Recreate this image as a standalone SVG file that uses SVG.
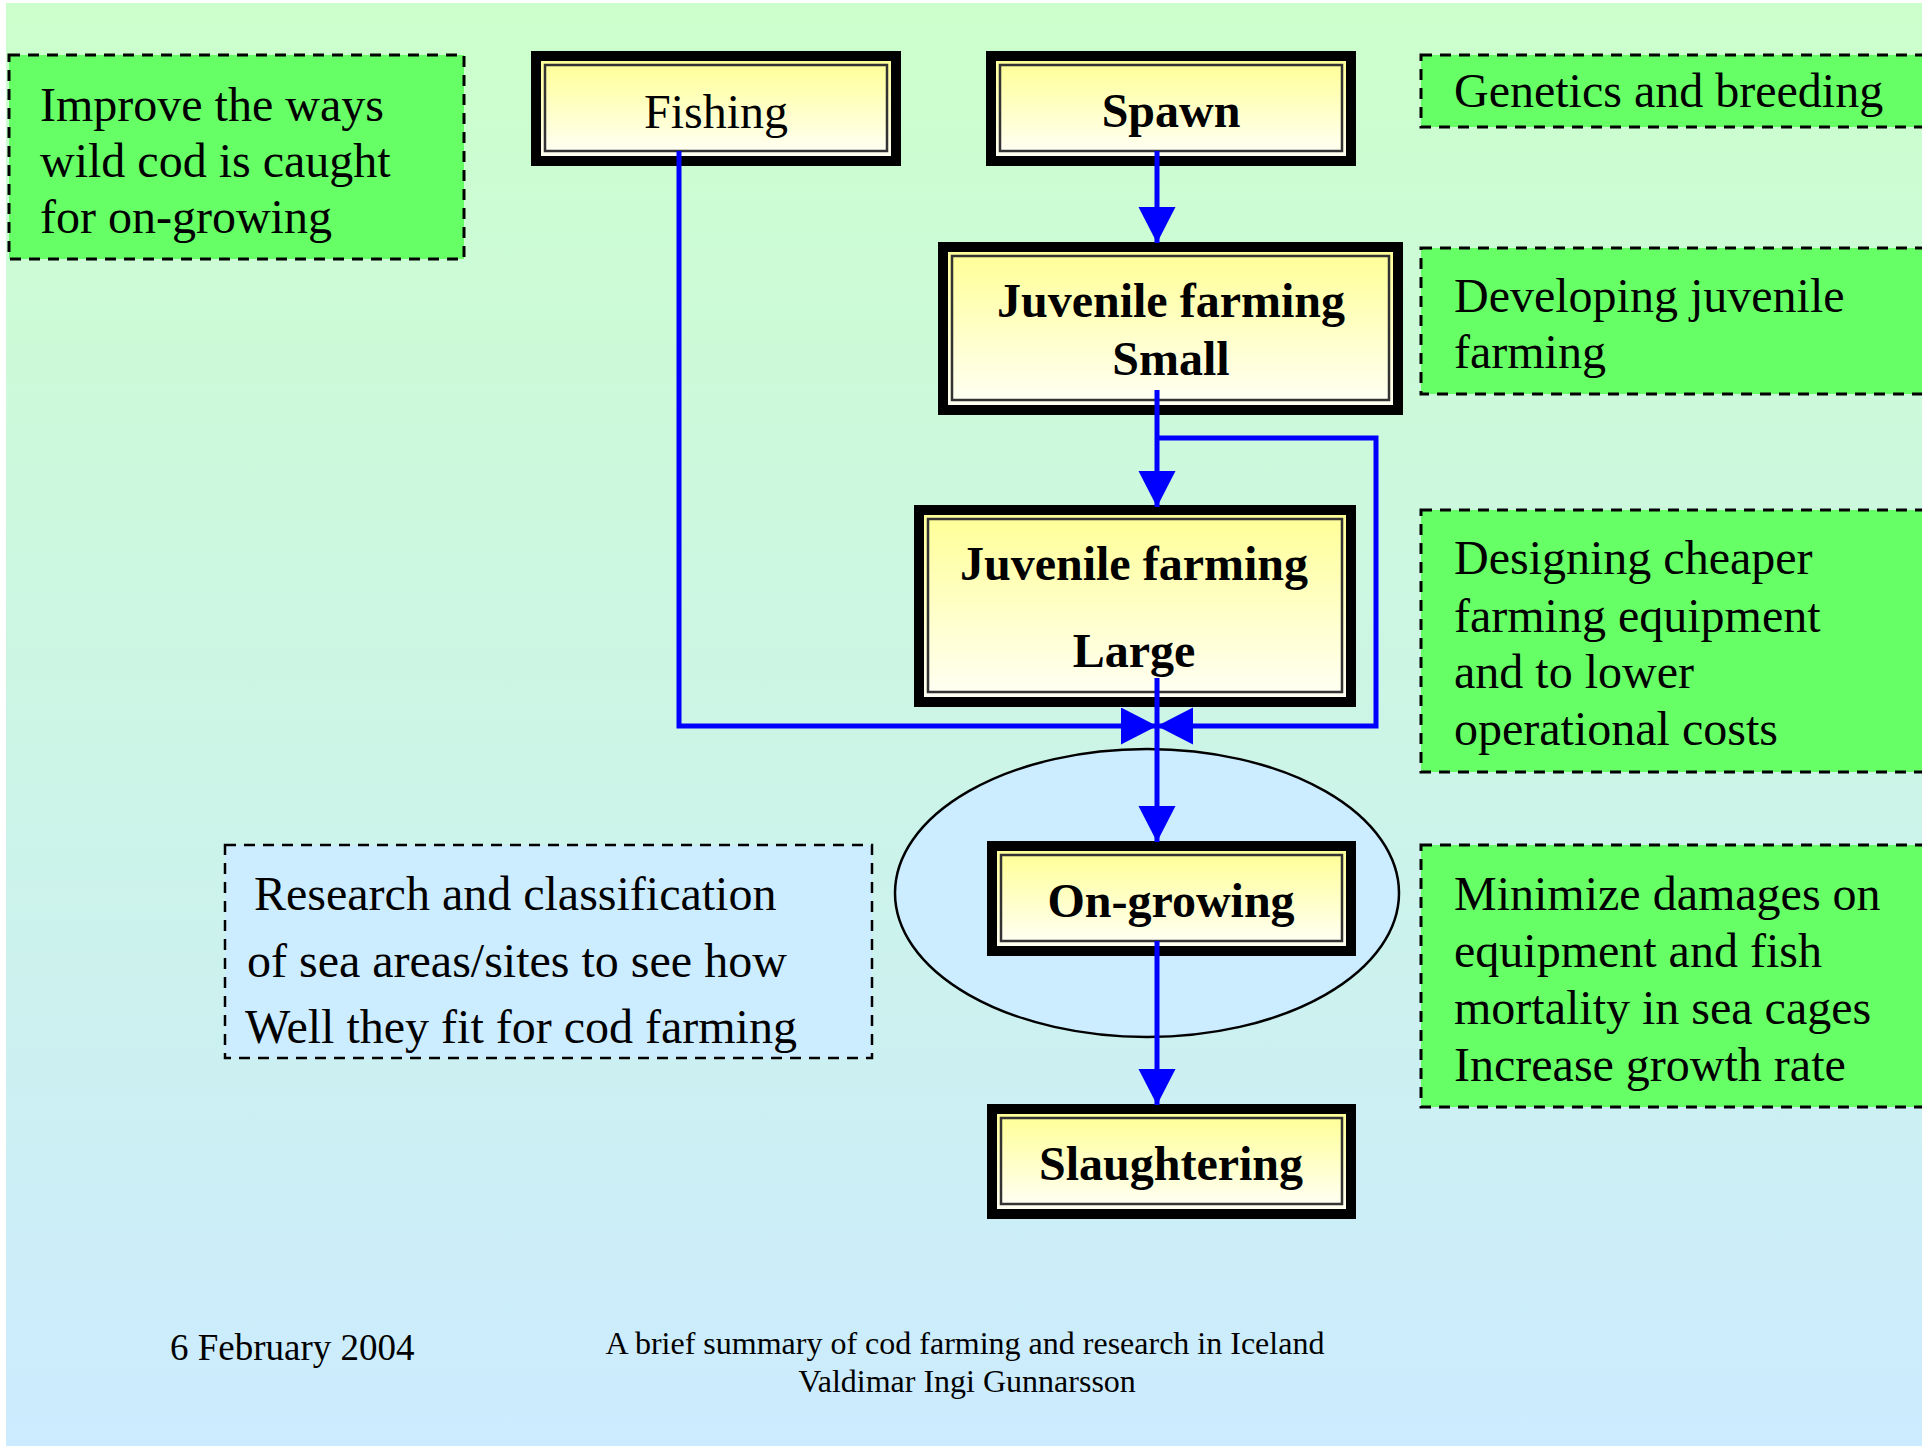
<svg xmlns="http://www.w3.org/2000/svg" width="1922" height="1446" viewBox="0 0 1922 1446">
  <defs>
    <linearGradient id="bg" x1="0" y1="0" x2="0" y2="1">
      <stop offset="0" stop-color="#CCFFCC"/>
      <stop offset="1" stop-color="#CCEBFF"/>
    </linearGradient>
    <linearGradient id="nodefill" x1="0" y1="0" x2="0" y2="1">
      <stop offset="0" stop-color="#FFFF99"/>
      <stop offset="1" stop-color="#FFFFF2"/>
    </linearGradient>
    <marker id="arrow" markerUnits="userSpaceOnUse" markerWidth="38" markerHeight="38" refX="36" refY="18.5" orient="auto" viewBox="0 0 38 38">
      <path d="M0,0 L36,18.5 L0,37 z" fill="#0000FF"/>
    </marker>
  </defs>
  <style>
    .frame { fill: #000000; }
    .gap { fill: url(#nodefill); }
    .inner { fill: url(#nodefill); stroke: #333333; stroke-width: 2.5; }
    .note { fill: #66FF66; stroke: #000000; stroke-width: 3; stroke-dasharray: 11 8; }
    .note2 { fill: #CCECFF; stroke: #000000; stroke-width: 2.5; stroke-dasharray: 11 8; }
    .t { font-family: "Liberation Serif", "Times New Roman", serif; font-size: 48px; fill: #000000; }
    .b { font-weight: bold; text-anchor: middle; }
    .c { text-anchor: middle; }
    .conn { fill: none; stroke: #0000FF; stroke-width: 5; }
  </style>

  <rect x="0" y="0" width="1922" height="1446" fill="#FFFFFF"/>
  <rect x="6" y="3" width="1916" height="1443" fill="url(#bg)"/>

  <g id="note-fishing">
    <rect class="note" x="9" y="55" width="455" height="204"/>
    <text class="t" x="40" y="121">Improve the ways</text>
    <text class="t" x="40" y="177">wild cod is caught</text>
    <text class="t" x="40" y="233">for on-growing</text>
  </g>
  <g id="note-genetics">
    <rect class="note" x="1421" y="55" width="520" height="72"/>
    <text class="t" x="1454" y="107">Genetics and breeding</text>
  </g>
  <g id="note-juvenile">
    <rect class="note" x="1421" y="248" width="520" height="146"/>
    <text class="t" x="1454" y="312">Developing juvenile</text>
    <text class="t" x="1454" y="368">farming</text>
  </g>
  <g id="note-equipment">
    <rect class="note" x="1421" y="510" width="520" height="262"/>
    <text class="t" x="1454" y="574">Designing cheaper</text>
    <text class="t" x="1454" y="632">farming equipment</text>
    <text class="t" x="1454" y="688">and to lower</text>
    <text class="t" x="1454" y="745">operational costs</text>
  </g>
  <g id="note-seacages">
    <rect class="note" x="1421" y="845" width="520" height="262"/>
    <text class="t" x="1454" y="910">Minimize damages on</text>
    <text class="t" x="1454" y="967">equipment and fish</text>
    <text class="t" x="1454" y="1024">mortality in sea cages</text>
    <text class="t" x="1454" y="1081">Increase growth rate</text>
  </g>
  <g id="note-research">
    <rect class="note2" x="225" y="845" width="647" height="213"/>
    <text class="t" x="254" y="910">Research and classification</text>
    <text class="t" x="247" y="977">of sea areas/sites to see how</text>
    <text class="t" x="245" y="1043">Well they fit for cod farming</text>
  </g>

  <g id="sea-ellipse">
    <ellipse cx="1147" cy="893" rx="252" ry="144" fill="#CCECFF" stroke="#000000" stroke-width="2.5"/>
  </g>

  <g id="node-fishing">
    <rect class="frame" x="531" y="51" width="370" height="115"/>
    <rect class="gap" x="541" y="61" width="350" height="95"/>
    <rect class="inner" x="545" y="65" width="342" height="86"/>
    <text class="t c" x="716" y="128">Fishing</text>
  </g>
  <g id="node-spawn">
    <rect class="frame" x="986" y="51" width="370" height="115"/>
    <rect class="gap" x="996" y="61" width="350" height="95"/>
    <rect class="inner" x="1000" y="65" width="342" height="86"/>
    <text class="t b" x="1171" y="127">Spawn</text>
  </g>
  <g id="node-juvenile-small">
    <rect class="frame" x="938" y="242" width="465" height="173"/>
    <rect class="gap" x="948" y="252" width="445" height="153"/>
    <rect class="inner" x="952" y="256" width="437" height="144"/>
    <text class="t b" x="1171" y="317">Juvenile farming</text>
    <text class="t b" x="1171" y="375">Small</text>
  </g>
  <g id="node-juvenile-large">
    <rect class="frame" x="914" y="505" width="442" height="202"/>
    <rect class="gap" x="924" y="515" width="422" height="182"/>
    <rect class="inner" x="928" y="519" width="414" height="173"/>
    <text class="t b" x="1134" y="580">Juvenile farming</text>
    <text class="t b" x="1134" y="667">Large</text>
  </g>
  <g id="node-ongrowing">
    <rect class="frame" x="987" y="841" width="369" height="115"/>
    <rect class="gap" x="997" y="851" width="349" height="95"/>
    <rect class="inner" x="1001" y="855" width="341" height="86"/>
    <text class="t b" x="1171" y="917">On-growing</text>
  </g>
  <g id="node-slaughtering">
    <rect class="frame" x="987" y="1104" width="369" height="115"/>
    <rect class="gap" x="997" y="1114" width="349" height="95"/>
    <rect class="inner" x="1001" y="1118" width="341" height="86"/>
    <text class="t b" x="1171" y="1180">Slaughtering</text>
  </g>

  <g id="connectors">
    <path class="conn" d="M679,151 V726 H1157" marker-end="url(#arrow)"/>
    <path class="conn" d="M1157,151 V243" marker-end="url(#arrow)"/>
    <path class="conn" d="M1157,390 V507" marker-end="url(#arrow)"/>
    <path class="conn" d="M1157,438 H1376 V726 H1157" marker-end="url(#arrow)"/>
    <path class="conn" d="M1157,678 V842" marker-end="url(#arrow)"/>
    <path class="conn" d="M1157,941 V1105" marker-end="url(#arrow)"/>
  </g>

  <g id="footer">
    <text class="t" x="170" y="1360" style="font-size:37px">6 February 2004</text>
    <text class="t c" x="965" y="1354" style="font-size:32px">A brief summary of cod farming and research in Iceland</text>
    <text class="t c" x="967" y="1392" style="font-size:32px">Valdimar Ingi Gunnarsson</text>
  </g>
</svg>
